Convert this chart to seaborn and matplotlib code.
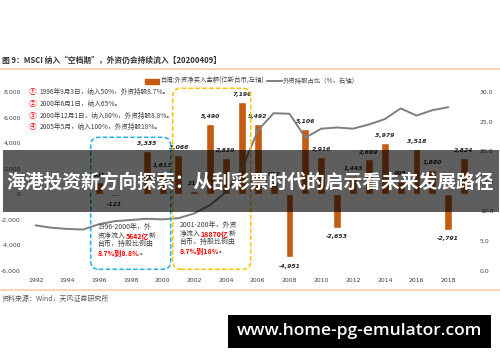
import numpy as np
import pandas as pd
import matplotlib.pyplot as plt
import seaborn as sns
from matplotlib.lines import Line2D
from matplotlib.patches import Rectangle, FancyBboxPatch
from matplotlib.transforms import IdentityTransform
from matplotlib.ticker import FuncFormatter

# data
bar_years = [1996, 1997, 1999, 2000, 2001, 2002, 2003, 2004, 2005, 2006, 2007,
             2008, 2009, 2010, 2011, 2012, 2013, 2014, 2015, 2016, 2017, 2018, 2019]
net_buy = [901, -121, 3335, 1613, 3066, 219, 5490, 2839, 7196, 5492, 912,
           -4951, 5106, 2916, -2653, 1443, 2699, 3979, 995, 3518, 1880, -2791, 2824]

line_years = list(range(1992, 2019))
foreign_pct = [7.6, 7.2, 7.0, 6.9, 7.8, 8.3, 8.5, 8.7, 8.6, 8.8, 9.6, 11.0, 13.2,
               17.0, 23.5, 26.4, 26.3, 22.3, 23.8, 24.0, 23.8, 24.5, 25.4, 27.2,
               26.0, 26.9, 27.4]

x_ticks = list(range(1992, 2019, 2))
left_ticks = [-6000, -4000, -2000, 0, 2000, 4000, 6000, 8000]
right_ticks = [0, 5, 10, 15, 20, 25, 30]

notes = ["1996年9月3日，纳入50%，外资持股8.7%。",
         "2000年6月1日，纳入65%。",
         "2000年12月1日，纳入80%，外资持股8.8%。",
         "2005年5月，纳入100%，外资持股18%。"]
circled = ["①", "②", "③", "④"]

CJK = ['Noto Sans CJK SC', 'DejaVu Sans']
ORANGE = '#C55A11'
GREY = '#7F7F7F'
TXT = '#404040'

sns.set_style('white')
plt.rcParams['font.family'] = CJK
plt.rcParams['axes.unicode_minus'] = False

fig = plt.figure(figsize=(5, 3.62), dpi=100)
ax = fig.add_axes([0.049, 0.2522, 0.9046, 0.4945])
ax2 = ax.twinx()

df = pd.DataFrame({'year': bar_years, 'val': net_buy})
sns.barplot(data=df, x='year', y='val', native_scale=True, width=0.5,
            color=ORANGE, saturation=1, errorbar=None, ax=ax)
sns.lineplot(x=line_years, y=foreign_pct, ax=ax2, color=GREY, lw=1.4)

ax.set_xlim(1991.3, 2019.8)
ax.set_ylim(-6000, 8000)
ax2.set_ylim(0, 30)
ax.set_xticks(x_ticks)
ax.set_yticks(left_ticks)
ax2.set_yticks(right_ticks)
ax.yaxis.set_major_formatter(FuncFormatter(lambda v, p: f'{v:,.0f}'))
ax2.yaxis.set_major_formatter(FuncFormatter(lambda v, p: f'{v:.1f}'))
ax.set_xlabel('')
ax.set_ylabel('')
ax2.set_ylabel('')
for a in (ax, ax2):
    for s in a.spines.values():
        s.set_visible(False)
    a.tick_params(length=0, labelsize=4.4, labelcolor=TXT)
    for lab in a.get_xticklabels() + a.get_yticklabels():
        lab.set_family('DejaVu Sans')
ax.tick_params(axis='x', pad=5)
ax.tick_params(axis='y', pad=2.6)
ax2.tick_params(axis='y', pad=2.2)

# value labels
for yr, v in zip(bar_years, net_buy):
    ax.annotate(f'{v:,}', xy=(yr, v), xytext=(0, 3.5 if v >= 0 else -4.5),
                textcoords='offset points', ha='center',
                va='bottom' if v >= 0 else 'top', fontsize=4.4,
                fontweight='bold', fontstyle='italic', family='DejaVu Sans',
                color='#262626', annotation_clip=False)

# title + rules
H = 362.0
fig.text(0.004, 1 - 60.7 / H, '图 9：MSCI 纳入“空档期”，外资仍会持续流入【20200409】',
         fontsize=5.6, fontweight='bold', color='#333333', va='center')
for yy in (69.3, 290.0):
    fig.add_artist(Line2D([0, 1], [1 - yy / H] * 2, transform=fig.transFigure,
                          color='#F8CBAD', lw=1.2))
fig.text(0.004, 1 - 299 / H, '资料来源：Wind，天风证券研究所', fontsize=5,
         color='#595959', va='center')

# legend
fig.add_artist(Rectangle((145, H - 83.5), 14, 5, transform=IdentityTransform(),
                         color=ORANGE))
fig.text(160 / 500, 1 - 81 / H, '台湾:外资净买入金额(亿新台币,左轴)', fontsize=4.6,
         color=TXT, va='center')
fig.add_artist(Line2D([266.7, 281.7], [H - 81, H - 81], transform=IdentityTransform(),
                      color=GREY, lw=1.4))
fig.text(283 / 500, 1 - 81 / H, '外资持股占比（%，右轴）', fontsize=4.6,
         color=TXT, va='center')

# numbered notes
for i, (c, n) in enumerate(zip(circled, notes)):
    yy = 1 - (92.3 + i * 11.7) / H
    fig.text(32.3 / 500, yy, c, fontsize=5.5, color='#FF0000', ha='center', va='center')
    fig.text(39.3 / 500, yy, n, fontsize=4.8, color=TXT, va='center')

# dashed boxes
fig.add_artist(FancyBboxPatch((90.7, H - 269.3), 80, 132, transform=IdentityTransform(),
                              boxstyle='round,pad=0,rounding_size=8', fill=False,
                              ec='#1FB0E6', lw=1.1, ls=(0, (3, 1.5)), zorder=5))
fig.add_artist(FancyBboxPatch((172.7, H - 269.3), 78, 181, transform=IdentityTransform(),
                              boxstyle='round,pad=0,rounding_size=8', fill=False,
                              ec='#FFC000', lw=1.1, ls=(0, (3, 1.5)), zorder=5))


def rich_line(x, y, parts):
    t = fig.text(x / 500, 1 - y / H, parts[0][0], fontsize=5, color=TXT,
                 va='bottom', zorder=6)
    for s, red in parts[1:]:
        kw = dict(color='#FF0000', fontweight='bold', fontstyle='italic') if red \
            else dict(color=TXT)
        t = ax.annotate(s, xy=(1, 0), xycoords=t, va='bottom', fontsize=5,
                        annotation_clip=False, zorder=6, **kw)


blue_lines = [[('1996-2000年，外', 0)],
              [('资净流入', 0), ('5642亿', 1), ('新', 0)],
              [('台币，持股比例由', 0)],
              [('', 0), ('8.7%到8.8%', 1), ('。', 0)]]
yellow_lines = [[('2001-200年，外资', 0)],
                [('净流入', 0), ('18870亿', 1), ('新', 0)],
                [('台币，持股比例由', 0)],
                [('', 0), ('8.7%到18%', 1), ('。', 0)]]
for i, parts in enumerate(blue_lines):
    rich_line(97.5, 231 + i * 8.6, parts)
for i, parts in enumerate(yellow_lines):
    rich_line(179.5, 229 + i * 8.6, parts)

# overlay banner
fig.add_artist(Rectangle((3.3, H - 212), 495.7, 62, transform=IdentityTransform(),
                         color='black', alpha=0.63, lw=0, zorder=10))
fig.text(0.5, 1 - 182 / H, '海港投资新方向探索：从刮彩票时代的启示看未来发展路径',
         fontsize=13.5, fontweight='bold', color='white', ha='center', va='center',
         zorder=11)

# footer badge
fig.add_artist(Rectangle((228, H - 348), 263, 33, transform=IdentityTransform(),
                         color='black', lw=0, zorder=10))
fig.text(359.5 / 500, 1 - 331 / H, 'www.home-pg-emulator.com', fontsize=12.5,
         family='Open Sans', fontweight='semibold', color='white',
         ha='center', va='center', zorder=11)

fig.savefig('out.png', dpi=100)
